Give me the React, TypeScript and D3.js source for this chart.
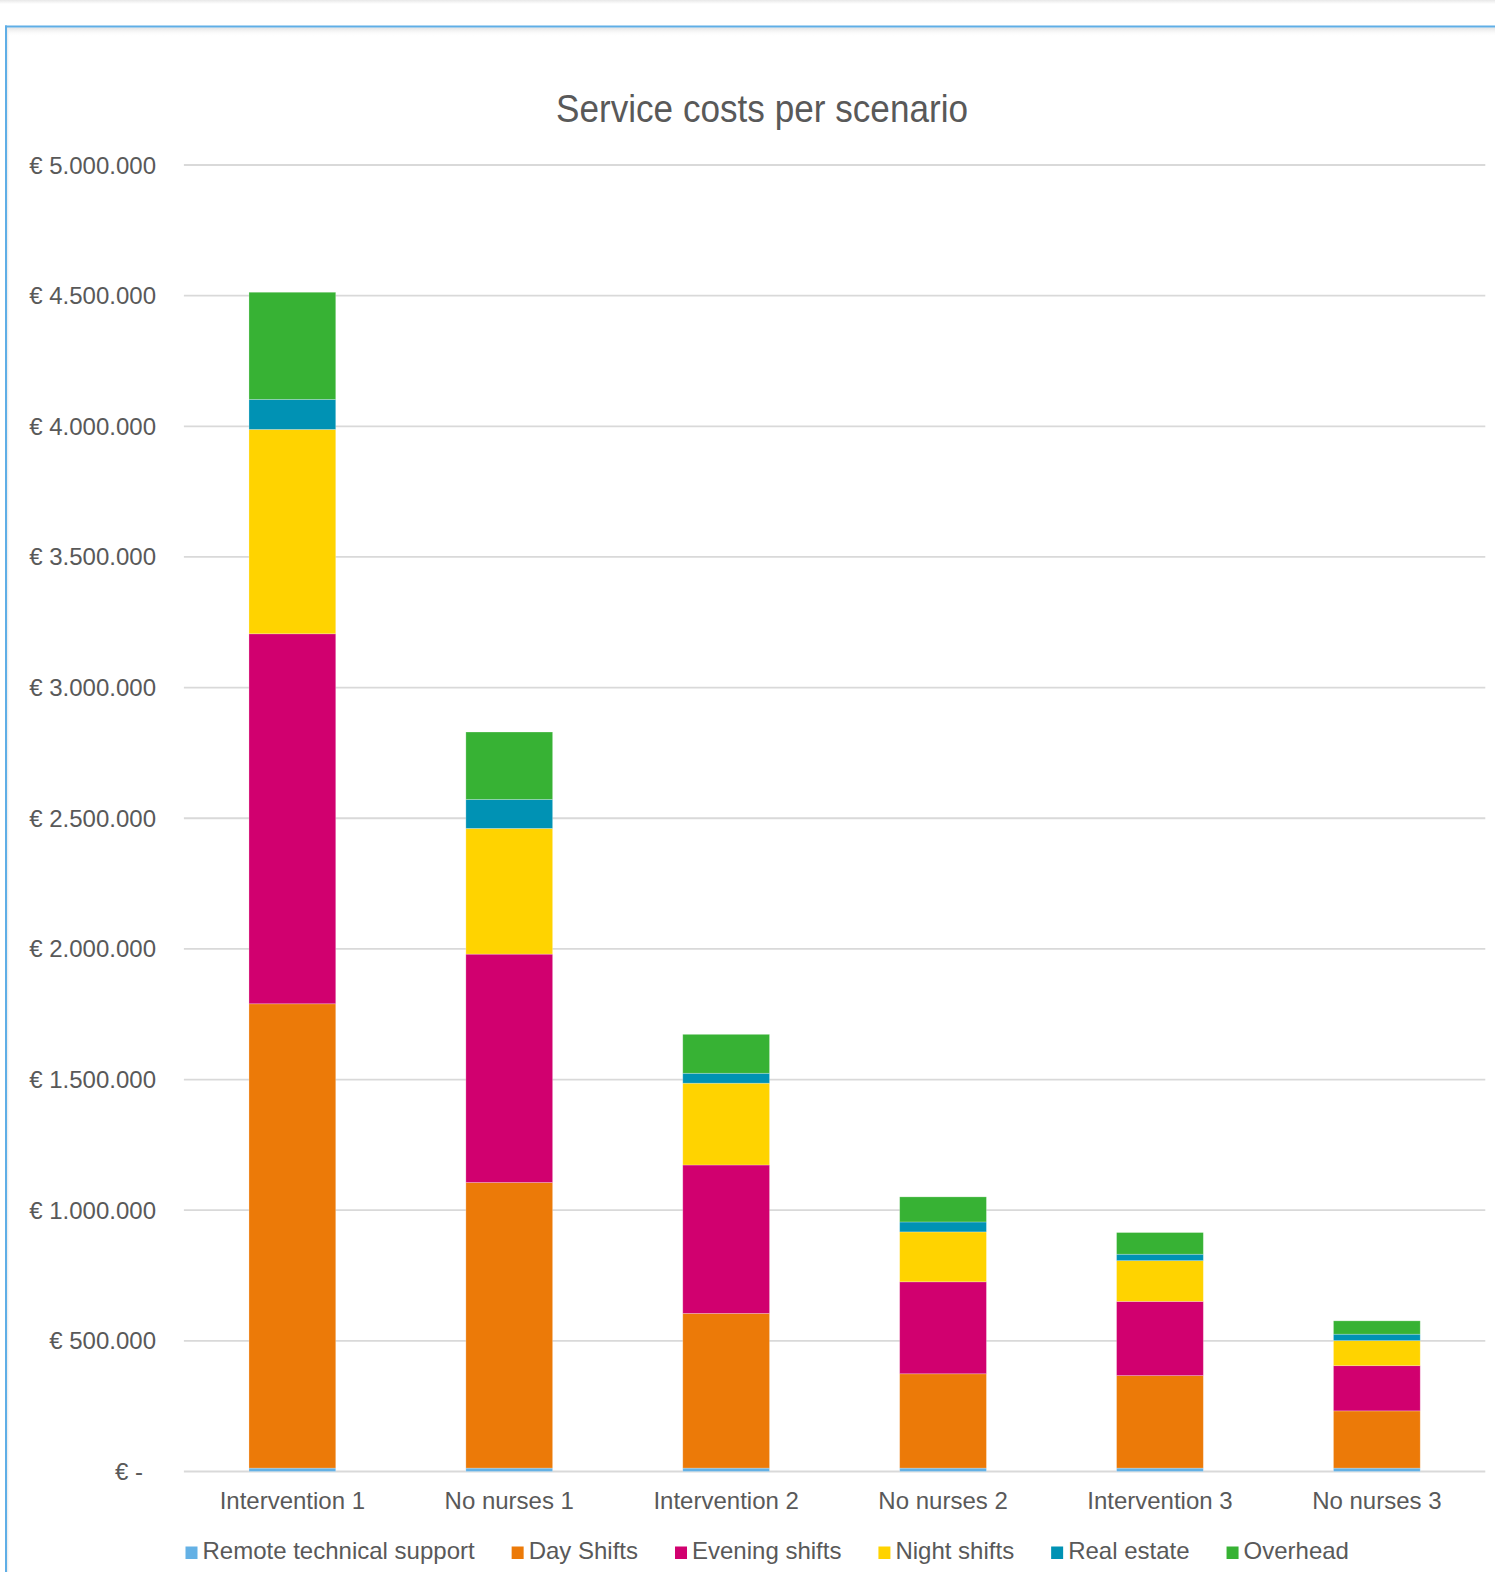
import React from "react";
import * as d3 from "d3";

const categories = ["Intervention 1", "No nurses 1", "Intervention 2", "No nurses 2", "Intervention 3", "No nurses 3"];
const seriesNames = ["Remote technical support", "Day Shifts", "Evening shifts", "Night shifts", "Real estate", "Overhead"];
const remoteSupport = [13000, 13000, 13000, 13000, 13000, 13000];
const dayShifts = [1777000, 1093000, 592000, 361000, 354000, 219000];
const eveningShifts = [1416000, 874000, 568000, 352000, 284000, 173000];
const nightShifts = [782000, 481000, 313000, 191000, 156000, 96000];
const realEstate = [115000, 111000, 38000, 38000, 24500, 24500];
const overhead = [410000, 258000, 149000, 96000, 83000, 51000];
const seriesColors = ["#64B1E5", "#EC7A08", "#D1006F", "#FFD300", "#0092B4", "#37B234"];
const yTicks = [0, 500000, 1000000, 1500000, 2000000, 2500000, 3000000, 3500000, 4000000, 4500000, 5000000];
const title = "Service costs per scenario";

const W = 1495;
const H = 1572;
const FONT = "'Liberation Sans', Arial, sans-serif";
const TEXT = "#595959";

function fmtEuro(v: number): string {
  if (v === 0) return "€ -";
  return "€ " + d3.format(",")(v).replace(/,/g, ".");
}

function measure(text: string, size: number): number {
  if (typeof document === "undefined") return text.length * size * 0.5;
  const c = document.createElement("canvas");
  const ctx = c.getContext("2d");
  if (!ctx) return text.length * size * 0.5;
  ctx.font = `${size}px 'Liberation Sans', Arial, sans-serif`;
  return ctx.measureText(text).width;
}

export default function App() {
  const seriesValues = [remoteSupport, dayShifts, eveningShifts, nightShifts, realEstate, overhead];
  const rows = categories.map((c, i) => {
    const r: any = { cat: c };
    seriesNames.forEach((s, j) => (r[s] = seriesValues[j][i]));
    return r;
  });
  const stacked = d3.stack().keys(seriesNames)(rows);

  const x = d3.scaleBand().domain(categories).range([183.9, 1485.3]).paddingInner(0.6).paddingOuter(0.3);
  const y = d3.scaleLinear().domain([0, 5000000]).range([1471.5, 165]);

  // legend layout
  let lx = 185.5;
  const legendItems = seriesNames.map((s, i) => {
    const item = { name: s, color: seriesColors[i], x: lx };
    lx += 17 + measure(s, 24) + 37;
    return item;
  });

  return (
    <svg width={W} height={H} style={{ position: "absolute", left: 0, top: 0, background: "#fff" }}>
      <defs>
        <linearGradient id="topShadow" x1="0" y1="0" x2="0" y2="1">
          <stop offset="0" stopColor="#e8e8e8" />
          <stop offset="1" stopColor="#ffffff" />
        </linearGradient>
        <linearGradient id="innerShadow" x1="0" y1="0" x2="0" y2="1">
          <stop offset="0" stopColor="#e2e2e2" />
          <stop offset="1" stopColor="#ffffff" stopOpacity="0" />
        </linearGradient>
        <linearGradient id="leftShadow" x1="0" y1="0" x2="1" y2="0">
          <stop offset="0" stopColor="#e6e6e6" />
          <stop offset="1" stopColor="#ffffff" stopOpacity="0" />
        </linearGradient>
      </defs>
      <rect x={0} y={0} width={W} height={H} fill="#fff" />
      <rect x={0} y={0} width={W} height={4} fill="url(#topShadow)" />
      <rect x={7} y={27.5} width={W - 7} height={9} fill="url(#innerShadow)" />
      <rect x={7} y={27.5} width={3} height={H - 27.5} fill="url(#leftShadow)" />
      <line x1={5} x2={W} y1={26.5} y2={26.5} stroke="#5FAEE6" strokeWidth={2} />
      <line x1={6} x2={6} y1={25.5} y2={H} stroke="#5FAEE6" strokeWidth={2} />

      <text x={762} y={121.5} textAnchor="middle" fontFamily={FONT} fontSize={39} fill={TEXT}
        textLength={412} lengthAdjust="spacingAndGlyphs">{title}</text>

      {yTicks.map((t) => (
        <g key={t}>
          <line x1={183.9} x2={1485.3} y1={y(t)} y2={y(t)} stroke="#D9D9D9" strokeWidth={1.8} />
          <text x={t === 0 ? 143 : 156} y={y(t) + 8.5} textAnchor="end" fontFamily={FONT} fontSize={24} fill={TEXT}>
            {fmtEuro(t)}
          </text>
        </g>
      ))}

      {stacked.map((layer, li) => (
        <g key={layer.key} fill={seriesColors[li]}>
          {layer.map((d: any, i: number) => (
            <rect key={i} x={x(categories[i])} width={x.bandwidth()} y={y(d[1])} height={Math.max(0, y(d[0]) - y(d[1]))}
              stroke="rgba(255,255,255,0.3)" strokeWidth={0.8} />
          ))}
        </g>
      ))}

      {categories.map((c) => (
        <text key={c} x={(x(c) as number) + x.bandwidth() / 2} y={1509.3} textAnchor="middle" fontFamily={FONT} fontSize={24} fill={TEXT}>
          {c}
        </text>
      ))}

      {legendItems.map((it) => (
        <g key={it.name}>
          <rect x={it.x} y={1546.5} width={12} height={12.5} fill={it.color} />
          <text x={it.x + 17} y={1559.3} fontFamily={FONT} fontSize={24} fill={TEXT}>{it.name}</text>
        </g>
      ))}
    </svg>
  );
}
